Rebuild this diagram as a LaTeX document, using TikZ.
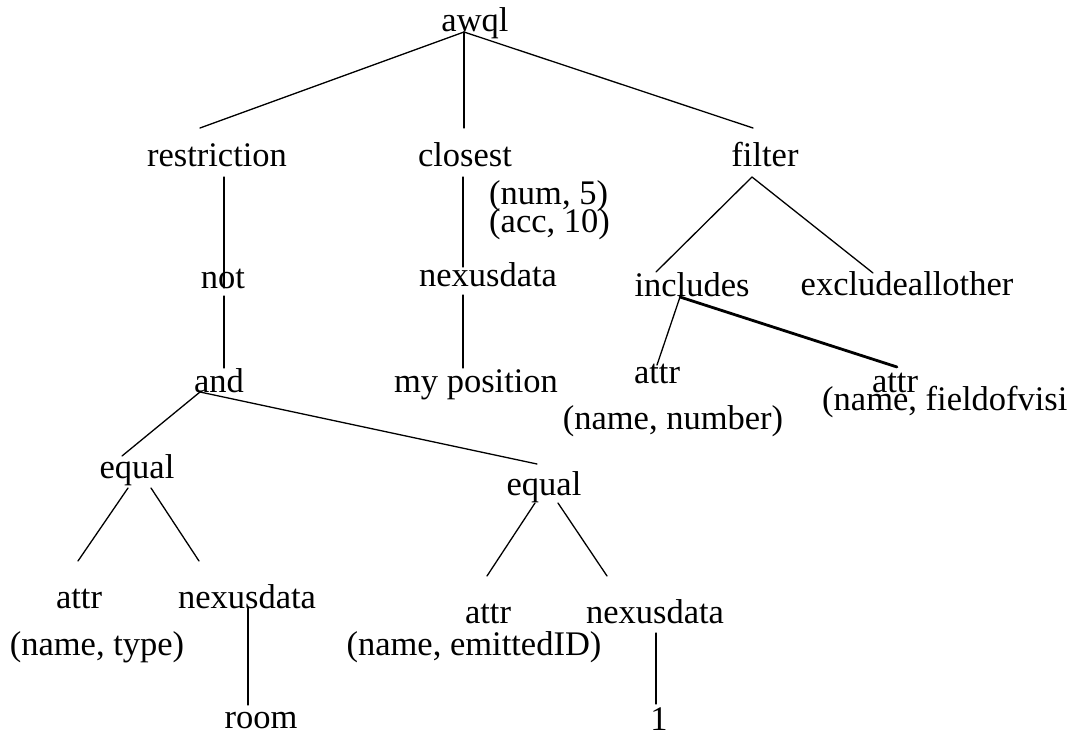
\documentclass[tikz,border=0pt]{standalone}
\usepackage{fontspec}
\setmainfont{Liberation Serif}
\begin{document}
\begin{tikzpicture}[x=1pt,y=-1pt,
  lbl/.style={anchor=base,inner sep=0pt,font=\fontsize{34.5}{40}\selectfont},
  lbll/.style={lbl,anchor=base west},
  edge/.style={line width=1.3pt,line cap=round},
  heavy/.style={line width=2.8pt,line cap=round}]
\useasboundingbox (0,0) rectangle (1072,733);
% nodes
\node[lbl] (awql) at (475,32) {awql};
\node[lbl] (restriction) at (217,167) {restriction};
\node[lbl] (closest) at (465,167) {closest};
\node[lbl] (filter) at (765,167) {filter};
\node[lbll] (num) at (489,205) {(num, 5)};
\node[lbll] (acc) at (489,233) {(acc, 10)};
\node[lbl] (not) at (223,288) {not};
\node[lbl] (nexus1) at (488,287) {nexusdata};
\node[lbl] (includes) at (692,296) {includes};
\node[lbl] (exclude) at (907,295) {excludeallother};
\node[lbl] (and) at (219,392) {and};
\node[lbl] (mypos) at (476,392) {my position};
\node[lbl] (attr1) at (657,383) {attr};
\node[lbl] (attr2) at (895,392) {attr};
\node[lbl] (namenumber) at (673,429) {(name, number)};
\node[lbll] (namefield) at (822,410) {(name, fieldofvisi};
\node[lbl] (equal1) at (137,478) {equal};
\node[lbl] (equal2) at (544,495) {equal};
\node[lbl] (attrA) at (79,608) {attr};
\node[lbl] (nexusA) at (247,608) {nexusdata};
\node[lbl] (nametype) at (97,655) {(name, type)};
\node[lbl] (attrB) at (488,623) {attr};
\node[lbl] (nexusB) at (655,623) {nexusdata};
\node[lbl] (nameemitted) at (474,655) {(name, emittedID)};
\node[lbl] (room) at (261,728) {room};
\node[lbl] (one) at (659,730) {1};
% connector end points
\coordinate (awql-s) at (464,32);
\coordinate (restriction-n) at (200,128);
\coordinate (closest-n) at (464,128);
\coordinate (filter-n) at (753,128);
\coordinate (restriction-s) at (224,177);
\coordinate (not-n) at (224,288);
\coordinate (not-s) at (224,296);
\coordinate (and-n) at (224,368);
\coordinate (closest-s) at (463,177);
\coordinate (nexus1-n) at (463,267);
\coordinate (nexus1-s) at (463,295);
\coordinate (mypos-n) at (463,368);
\coordinate (filter-s) at (752,177);
\coordinate (includes-n) at (656,272);
\coordinate (exclude-n) at (873,273);
\coordinate (includes-s) at (680,297);
\coordinate (attr1-n) at (657,365);
\coordinate (attr2-n) at (897,367);
\coordinate (and-s) at (200,392);
\coordinate (equal1-n) at (122,456);
\coordinate (equal2-n) at (537,464);
\coordinate (equal1-sl) at (128,488);
\coordinate (equal1-sr) at (151,488);
\coordinate (attrA-n) at (78,561);
\coordinate (nexusA-n) at (199,561);
\coordinate (equal2-sl) at (535,503);
\coordinate (equal2-sr) at (558,503);
\coordinate (attrB-n) at (487,576);
\coordinate (nexusB-n) at (607,576);
\coordinate (nexusA-s) at (248,608);
\coordinate (room-n) at (248,705);
\coordinate (nexusB-s) at (656,633);
\coordinate (one-n) at (656,704);
% connectors
\draw[edge] (awql-s) -- (restriction-n);
\draw[edge] (awql-s) -- (closest-n);
\draw[edge] (awql-s) -- (filter-n);
\draw[edge] (restriction-s) -- (not-n);
\draw[edge] (not-s) -- (and-n);
\draw[edge] (closest-s) -- (nexus1-n);
\draw[edge] (nexus1-s) -- (mypos-n);
\draw[edge] (filter-s) -- (includes-n);
\draw[edge] (filter-s) -- (exclude-n);
\draw[edge] (includes-s) -- (attr1-n);
\draw[heavy] (includes-s) -- (attr2-n);
\draw[edge] (and-s) -- (equal1-n);
\draw[edge] (and-s) -- (equal2-n);
\draw[edge] (equal1-sl) -- (attrA-n);
\draw[edge] (equal1-sr) -- (nexusA-n);
\draw[edge] (equal2-sl) -- (attrB-n);
\draw[edge] (equal2-sr) -- (nexusB-n);
\draw[edge] (nexusA-s) -- (room-n);
\draw[edge] (nexusB-s) -- (one-n);
\end{tikzpicture}
\end{document}
